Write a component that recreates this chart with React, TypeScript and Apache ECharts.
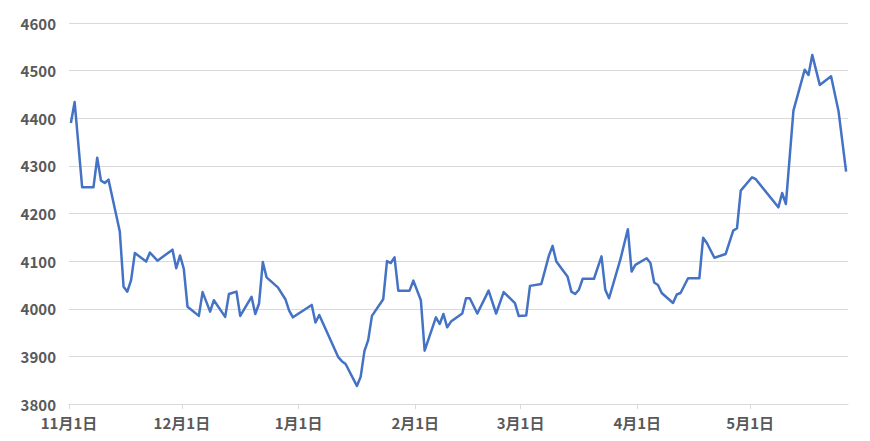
import React, { useEffect, useRef } from "react";
import * as echarts from "echarts";

// Trading dates (2022-11 .. 2023-05) and closing values
const dates: string[] = [
  "2022-11-01", "2022-11-02", "2022-11-04", "2022-11-07", "2022-11-08", "2022-11-09", "2022-11-10", "2022-11-11",
  "2022-11-14", "2022-11-15", "2022-11-16", "2022-11-17", "2022-11-18", "2022-11-21", "2022-11-22", "2022-11-24",
  "2022-11-28", "2022-11-29", "2022-11-30", "2022-12-01", "2022-12-02", "2022-12-05", "2022-12-06", "2022-12-08",
  "2022-12-09", "2022-12-12", "2022-12-13", "2022-12-15", "2022-12-16", "2022-12-19", "2022-12-20", "2022-12-21",
  "2022-12-22", "2022-12-23", "2022-12-26", "2022-12-28", "2022-12-29", "2022-12-30",
  "2023-01-04", "2023-01-05", "2023-01-06", "2023-01-11", "2023-01-12", "2023-01-13", "2023-01-16", "2023-01-17",
  "2023-01-18", "2023-01-19", "2023-01-20", "2023-01-23", "2023-01-24", "2023-01-25", "2023-01-26", "2023-01-27",
  "2023-01-30", "2023-01-31",
  "2023-02-02", "2023-02-03", "2023-02-06", "2023-02-07", "2023-02-08", "2023-02-09", "2023-02-10", "2023-02-13",
  "2023-02-14", "2023-02-15", "2023-02-17", "2023-02-20", "2023-02-22", "2023-02-24", "2023-02-27", "2023-02-28",
  "2023-03-02", "2023-03-03", "2023-03-06", "2023-03-07", "2023-03-08", "2023-03-09", "2023-03-10", "2023-03-13",
  "2023-03-14", "2023-03-15", "2023-03-16", "2023-03-17", "2023-03-20", "2023-03-22", "2023-03-23", "2023-03-24",
  "2023-03-27", "2023-03-29", "2023-03-30", "2023-03-31",
  "2023-04-03", "2023-04-04", "2023-04-05", "2023-04-06", "2023-04-07", "2023-04-10", "2023-04-11", "2023-04-12",
  "2023-04-14", "2023-04-17", "2023-04-18", "2023-04-19", "2023-04-21", "2023-04-24", "2023-04-26", "2023-04-27",
  "2023-04-28",
  "2023-05-01", "2023-05-02", "2023-05-08", "2023-05-09", "2023-05-10", "2023-05-12", "2023-05-15", "2023-05-16",
  "2023-05-17", "2023-05-19", "2023-05-22", "2023-05-24", "2023-05-26",
];

const values: number[] = [
  4390, 4434, 4255, 4255, 4317, 4269, 4264, 4271,
  4162, 4046, 4036, 4060, 4117, 4099, 4118, 4101,
  4124, 4085, 4112, 4084, 4004, 3985, 4035, 3994,
  4018, 3983, 4031, 4036, 3985, 4025, 3989, 4011,
  4098, 4066, 4045, 4020, 3996, 3982,
  4008, 3971, 3987, 3899, 3890, 3884, 3838, 3857,
  3911, 3934, 3985, 4020, 4100, 4096, 4108, 4038,
  4038, 4059,
  4018, 3912, 3982, 3968, 3989, 3961, 3973, 3990,
  4022, 4022, 3990, 4038, 3990, 4035, 4012, 3985,
  3986, 4048, 4052, 4081, 4111, 4132, 4099, 4067,
  4036, 4031, 4040, 4063, 4063, 4110, 4040, 4022,
  4103, 4167, 4078, 4092,
  4106, 4096, 4055, 4050, 4033, 4012, 4030, 4033,
  4064, 4064, 4149, 4138, 4107, 4115, 4164, 4169,
  4248,
  4276, 4272, 4213, 4243, 4220, 4416, 4502, 4491,
  4533, 4470, 4488, 4414, 4288,
];

// x-axis tick labels (month starts) and axis range (end of the last day)
const monthTicks: string[] = [
  "2022-11-01", "2022-12-01", "2023-01-01", "2023-02-01", "2023-03-01", "2023-04-01", "2023-05-01",
];
const xRange: string[] = ["2022-11-01", "2023-05-27"];
const yRange: number[] = [3800, 4600];
const yStep = 100;

const HALF_DAY = 12 * 3600 * 1000;

function toTime(s: string): number {
  const [y, m, d] = s.split("-").map(Number);
  return new Date(y, m - 1, d).getTime();
}

export default function App() {
  const ref = useRef<HTMLDivElement>(null);

  useEffect(() => {
    document.body.style.margin = "0";
    if (!ref.current) return;
    const chart = echarts.init(ref.current, undefined, { renderer: "svg" });
    const tickTimes = monthTicks.map(toTime);
    const font = "'Noto Sans CJK JP', 'Noto Sans', sans-serif";

    chart.setOption({
      animation: false,
      backgroundColor: "#ffffff",
      grid: { left: 69, right: 22, top: 23, bottom: 37, containLabel: false },
      xAxis: {
        type: "value",
        min: toTime(xRange[0]),
        max: toTime(xRange[1]),
        axisLine: { show: true, lineStyle: { color: "#D9D9D9", width: 1 } },
        axisTick: {
          show: true,
          customValues: tickTimes,
          length: 5,
          lineStyle: { color: "#D9D9D9" },
        },
        axisLabel: {
          customValues: tickTimes,
          formatter: (v: number) => {
            const d = new Date(v);
            return `${d.getMonth() + 1}月${d.getDate()}日`;
          },
          color: "#595959",
          fontSize: 15,
          fontWeight: "bold",
          fontFamily: font,
          margin: 11,
        },
        splitLine: { show: false },
      },
      yAxis: {
        type: "value",
        min: yRange[0],
        max: yRange[1],
        interval: yStep,
        axisLine: { show: false },
        axisTick: { show: false },
        axisLabel: {
          formatter: (v: number) => String(v),
          color: "#595959",
          fontSize: 15,
          fontWeight: "bold",
          fontFamily: font,
          margin: 13,
        },
        splitLine: { show: true, lineStyle: { color: "#D9D9D9", width: 1 } },
      },
      series: [
        {
          type: "line",
          // each trading day is drawn at the middle of its day slot
          data: dates.map((d, i) => [toTime(d) + HALF_DAY, values[i]]),
          showSymbol: false,
          symbol: "none",
          lineStyle: { color: "#4472C4", width: 2.5, join: "round" },
          itemStyle: { color: "#4472C4" },
        },
      ],
    });

    return () => chart.dispose();
  }, []);

  return <div ref={ref} style={{ width: 870, height: 441 }} />;
}
